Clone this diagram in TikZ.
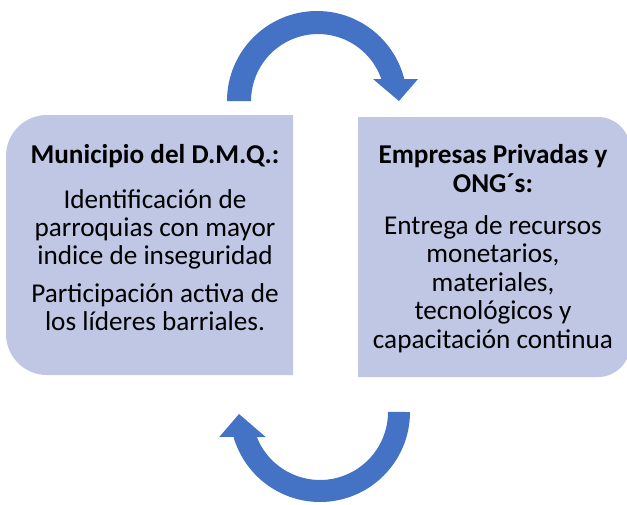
\documentclass[tikz,border=0pt]{standalone}
\usepackage{fontspec}
\setmainfont{Carlito}
\definecolor{boxfill}{RGB}{191,199,228}
\definecolor{arrowblue}{RGB}{68,114,196}
\tikzset{
  boxshape/.style={fill=boxfill, draw=none},
  cyclearrow/.style={fill=arrowblue, draw=none},
  bodyline/.style={anchor=base, inner sep=0pt, font=\fontsize{27.2}{29}\selectfont},
  headline/.style={anchor=base, inner sep=0pt, font=\fontsize{27.2}{29}\selectfont\bfseries},
}
\begin{document}
\begin{tikzpicture}[x=1pt,y=-1pt]
\useasboundingbox (0,0) rectangle (627,504);
\begin{scope}
\clip (0,0) rectangle (627,504);
% left box: rounded on the left side
\fill[boxshape] (293,115) -- (47,115) arc[start angle=270, end angle=180, radius=41]
  -- (6,334) arc[start angle=180, end angle=90, radius=41] -- (293,375) -- cycle;
% right box: rounded on the right side
\fill[boxshape] (358,117) -- (598,117) arc[start angle=270, end angle=360, radius=32]
  -- (630,345) arc[start angle=0, end angle=90, radius=32] -- (358,377) -- cycle;
\end{scope}
% top arrow
\fill[cyclearrow] (227,101) arc[start angle=180, end angle=346, radius=90]
  -- (418,79) -- (399,101) -- (373,79) -- (381.3,79)
  arc[start angle=340.8, end angle=180, radius=67] -- cycle;
% bottom arrow
\fill[cyclearrow] (410,412) arc[start angle=0, end angle=163.9, radius=90]
  -- (219.3,437) -- (239,414) -- (265.7,437) -- (256.8,437)
  arc[start angle=158.4, end angle=0, radius=68] -- cycle;
% left text
\node[headline] (l1) at (155,163) {Municipio del D.M.Q.:};
\node[bodyline] (l2) at (155,208) {Identificación de};
\node[bodyline] (l3) at (155,236) {parroquias con mayor};
\node[bodyline] (l4) at (155,264) {indice de inseguridad};
\node[bodyline] (l5) at (155,302) {Participación activa de};
\node[bodyline] (l6) at (155,330) {los líderes barriales.};
% right text
\node[headline] (r1) at (493,163) {Empresas Privadas y};
\node[headline] (r2) at (493,192) {ONG´s:};
\node[bodyline] (r3) at (493,234) {Entrega de recursos};
\node[bodyline] (r4) at (493,262.5) {monetarios,};
\node[bodyline] (r5) at (493,291) {materiales,};
\node[bodyline] (r6) at (493,319.5) {tecnológicos y};
\node[bodyline] (r7) at (493,348) {capacitación continua};
\end{tikzpicture}
\end{document}
